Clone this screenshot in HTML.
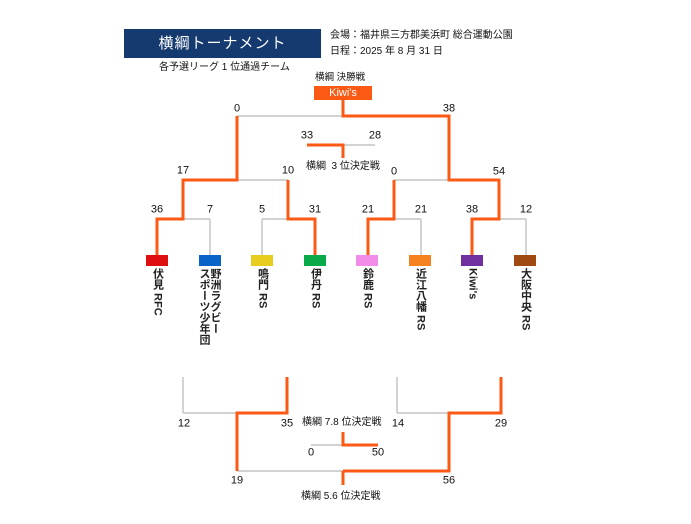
<!DOCTYPE html>
<html><head><meta charset="utf-8">
<style>
html,body{margin:0;padding:0;background:#fff;}
body{width:691px;height:524px;position:relative;overflow:hidden;font-family:"Liberation Sans","Noto Sans CJK JP",sans-serif;color:#111;}
.a{position:absolute;white-space:nowrap;}
.n{position:absolute;font-size:11px;line-height:11px;transform:translate(-50%,-50%);white-space:nowrap;}
.t{position:absolute;font-size:10px;line-height:10px;white-space:nowrap;transform:translateY(-50%);}
.v{position:absolute;top:268px;writing-mode:vertical-rl;font-size:11px;line-height:11px;transform:translateX(-50%);white-space:nowrap;font-weight:bold;color:#222;}
.bar{position:absolute;top:255px;width:22px;height:11px;}
</style></head><body>
<div class="a" style="left:124px;top:29px;width:197px;height:29px;background:#153a6f;color:#fff;font-size:15px;line-height:29px;text-align:center;letter-spacing:1px;">横綱トーナメント</div>
<div class="t" style="left:330px;top:36px;font-size:10px;">会場：福井県三方郡美浜町 総合運動公園</div>
<div class="t" style="left:330px;top:52px;font-size:10px;">日程：2025 年 8 月 31 日</div>
<div class="t" style="left:159px;top:68px;font-size:10px;">各予選リーグ 1 位通過チーム</div>
<div class="t" style="left:315px;top:78px;font-size:9.5px;">横綱 決勝戦</div>
<div class="a" style="left:314px;top:86px;width:58px;height:14px;background:#fa5a14;color:#fff;font-size:11px;line-height:14px;text-align:center;">Kiwi's</div>

<svg class="a" style="left:0;top:0" width="691" height="524" viewBox="0 0 691 524">
<g fill="none" stroke="#c4c4c4" stroke-width="1.5">
<line x1="237" y1="116" x2="343" y2="116"/>
<line x1="343" y1="145" x2="375" y2="145"/>
<line x1="237" y1="180" x2="288" y2="180"/>
<line x1="394" y1="180" x2="449" y2="180"/>
<line x1="183" y1="219" x2="210" y2="219"/>
<line x1="262" y1="219" x2="288" y2="219"/>
<line x1="394" y1="219" x2="421" y2="219"/>
<line x1="499" y1="219" x2="526" y2="219"/>
<line x1="210" y1="219" x2="210" y2="255"/>
<line x1="262" y1="219" x2="262" y2="255"/>
<line x1="421" y1="219" x2="421" y2="255"/>
<line x1="526" y1="219" x2="526" y2="255"/>
<line x1="183" y1="377" x2="183" y2="413"/>
<line x1="183" y1="413" x2="237" y2="413"/>
<line x1="397" y1="377" x2="397" y2="413"/>
<line x1="397" y1="413" x2="449" y2="413"/>
<line x1="237" y1="471" x2="343" y2="471"/>
<line x1="311" y1="445" x2="343" y2="445"/>
</g>
<g fill="none" stroke="#fa5a14" stroke-width="3" stroke-linejoin="miter">
<polyline points="343,100 343,116 449,116 449,180 499,180 499,219 472,219 472,255"/>
<polyline points="237,116 237,180 183,180 183,219 157,219 157,255"/>
<polyline points="288,180 288,219 315,219 315,255"/>
<polyline points="394,180 394,219 368,219 368,255"/>
<polyline points="307,145 343,145 343,158"/>
<polyline points="287,377 287,413 237,413 237,471"/>
<polyline points="501,377 501,413 449,413 449,471 343,471"/>
<line x1="343" y1="471" x2="343" y2="485"/>
<polyline points="343,432 343,445 378,445"/>
</g>
</svg>

<div class="n" style="left:237px;top:109px;">0</div>
<div class="n" style="left:449px;top:109px;">38</div>
<div class="n" style="left:307px;top:136px;">33</div>
<div class="n" style="left:375px;top:136px;">28</div>
<div class="t" style="left:306px;top:167px;">横綱&nbsp;&nbsp;3 位決定戦</div>
<div class="n" style="left:183px;top:171px;">17</div>
<div class="n" style="left:288px;top:171px;">10</div>
<div class="n" style="left:394px;top:172px;">0</div>
<div class="n" style="left:499px;top:172px;">54</div>
<div class="n" style="left:157px;top:210px;">36</div>
<div class="n" style="left:210px;top:210px;">7</div>
<div class="n" style="left:262px;top:210px;">5</div>
<div class="n" style="left:315px;top:210px;">31</div>
<div class="n" style="left:368px;top:210px;">21</div>
<div class="n" style="left:421px;top:210px;">21</div>
<div class="n" style="left:472px;top:210px;">38</div>
<div class="n" style="left:526px;top:210px;">12</div>

<div class="bar" style="left:146px;background:#e00f0f;"></div>
<div class="bar" style="left:199px;background:#0a64c8;"></div>
<div class="bar" style="left:251px;background:#e8cc1e;"></div>
<div class="bar" style="left:304px;background:#0aaa4a;"></div>
<div class="bar" style="left:356px;background:#f28ce8;"></div>
<div class="bar" style="left:409px;background:#f5821e;"></div>
<div class="bar" style="left:461px;background:#7030a0;"></div>
<div class="bar" style="left:514px;background:#a04a12;"></div>

<div class="v" style="left:157px;">伏見 RFC</div>
<div class="v" style="left:209px;">野洲ラグビー<br>スポーツ少年団</div>
<div class="v" style="left:262px;">鳴門 RS</div>
<div class="v" style="left:315px;">伊丹 RS</div>
<div class="v" style="left:367px;">鈴鹿 RS</div>
<div class="v" style="left:420px;">近江八幡 RS</div>
<div class="v" style="left:472px;">Kiwi's</div>
<div class="v" style="left:525px;">大阪中央 RS</div>

<div class="n" style="left:184px;top:424px;">12</div>
<div class="n" style="left:287px;top:424px;">35</div>
<div class="n" style="left:398px;top:424px;">14</div>
<div class="n" style="left:501px;top:424px;">29</div>
<div class="t" style="left:302px;top:423px;">横綱 7.8 位決定戦</div>
<div class="n" style="left:311px;top:453px;">0</div>
<div class="n" style="left:378px;top:453px;">50</div>
<div class="n" style="left:237px;top:481px;">19</div>
<div class="n" style="left:449px;top:481px;">56</div>
<div class="t" style="left:301px;top:497px;">横綱 5.6 位決定戦</div>
</body></html>
